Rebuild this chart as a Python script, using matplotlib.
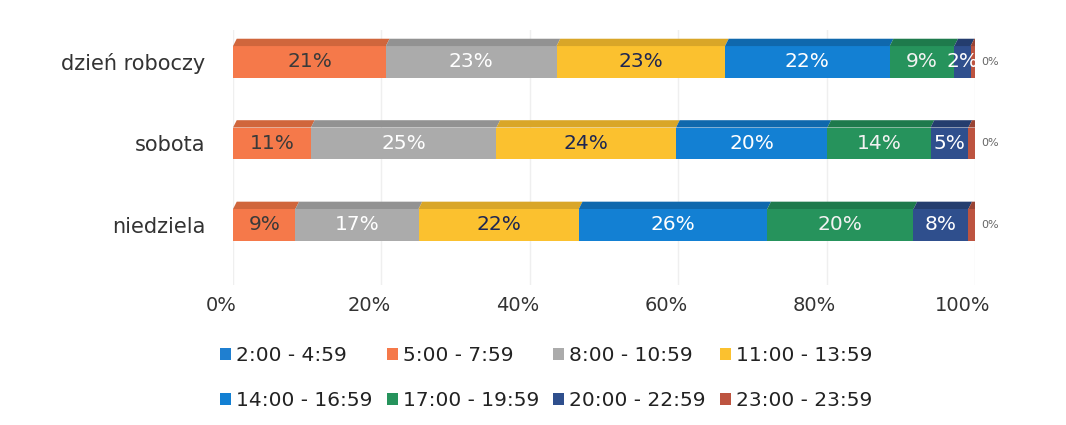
import numpy as np
import matplotlib.pyplot as plt
import matplotlib.transforms as mtransforms
from matplotlib.patches import Polygon

days = ['dzień roboczy', 'sobota', 'niedziela']
slots = ['2:00 - 4:59', '5:00 - 7:59', '8:00 - 10:59', '11:00 - 13:59',
         '14:00 - 16:59', '17:00 - 19:59', '20:00 - 22:59', '23:00 - 23:59']

# share of each time slot per day type (%)
workday = [0.0, 20.6, 23.0, 22.7, 22.2, 8.7, 2.2, 0.6]
saturday = [0.0, 10.5, 25.0, 24.2, 20.4, 13.9, 5.1, 0.9]
sunday = [0.0, 8.4, 16.6, 21.6, 25.4, 19.7, 7.4, 0.9]

labels_workday = ['', '21%', '23%', '23%', '22%', '9%', '2%', '']
labels_saturday = ['', '11%', '25%', '24%', '20%', '14%', '5%', '']
labels_sunday = ['', '9%', '17%', '22%', '26%', '20%', '8%', '']

colors = ['#1f7fd0', '#f5794a', '#ababab', '#fbc12f',
          '#1380d3', '#26935c', '#2f4f8d', '#bd5440']
tops = ['#17609e', '#d0663c', '#929292', '#d9a628',
        '#0f68ad', '#1e7a4c', '#243d6e', '#9a4434']
text_colors = ['white', '#3a3a3a', 'white', '#1d2652',
               'white', '#f2f2f2', 'white', 'white']

data = np.array([workday, saturday, sunday])
labels = [labels_workday, labels_saturday, labels_sunday]
ypos = np.array([2, 1, 0])

fig = plt.figure(figsize=(10.66, 4.25), dpi=100)
ax = fig.add_axes([0.2186, 0.329, 0.6961, 0.6])

h = 0.39
depth = 0.09
skew = 0.5
handles = []
for j in range(len(slots)):
    left = data[:, :j].sum(axis=1)
    b = ax.barh(ypos, data[:, j], left=left, height=h, color=colors[j],
                edgecolor='none', zorder=3, label=slots[j])
    handles.append(b)
    for i in range(len(days)):
        w = data[i, j]
        if w <= 0:
            continue
        l, r = left[i], left[i] + w
        yt = ypos[i] + h / 2
        ax.add_patch(Polygon([(l, yt), (l + skew, yt + depth), (r + skew, yt + depth), (r, yt)],
                             closed=True, color=tops[j], zorder=3, lw=0))
        if labels[i][j]:
            ax.text(l + w / 2, ypos[i], labels[i][j], ha='center', va='center',
                    fontsize=14.5, color=text_colors[j], zorder=4)

# small end labels of the last slot
for i in range(len(days)):
    ax.text(100.8, ypos[i], '0%', ha='left', va='center', fontsize=8,
            color='#666666', zorder=4)

ax.set_xlim(0, 100)
ax.set_ylim(-0.74, 2.39)
ax.set_xticks(np.arange(0, 101, 20))
ax.set_xticklabels([f'{v}%' for v in range(0, 101, 20)], fontsize=14, color='#333333')
ax.set_yticks(ypos)
ax.set_yticklabels(days, fontsize=15, color='#333333')
ax.tick_params(length=0)
ax.tick_params(axis='x', pad=8)
ax.tick_params(axis='y', pad=20)
shift = mtransforms.ScaledTranslation(-12 / 100, 0, fig.dpi_scale_trans)
for t in ax.get_xticklabels():
    t.set_transform(t.get_transform() + shift)
ax.grid(axis='x', color='#efefef', lw=1, zorder=0)
for s in ax.spines.values():
    s.set_visible(False)

order = [0, 4, 1, 5, 2, 6, 3, 7]
fig.legend([handles[k] for k in order], [slots[k] for k in order],
           loc='upper left', bbox_to_anchor=(0.197, 0.21), ncol=4, frameon=False,
           fontsize=14.5, handlelength=0.55, handleheight=0.55, handletextpad=0.25,
           columnspacing=0.7, labelspacing=1.3, borderpad=0, labelcolor='#222222')

fig.savefig('out.png', dpi=100)
